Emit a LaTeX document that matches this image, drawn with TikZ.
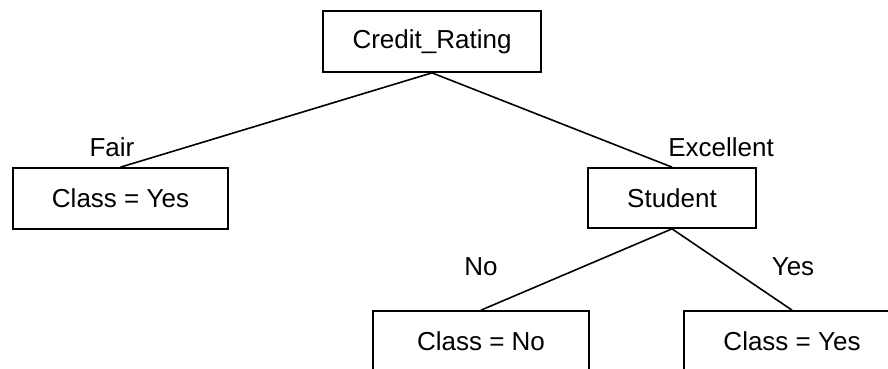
\documentclass[tikz,border=0pt]{standalone}
\usepackage{fontspec}
\setmainfont{Liberation Sans}
\begin{document}
\begin{tikzpicture}[x=1pt,y=-1pt,
  every node/.style={font=\fontsize{26}{30}\selectfont},
  box/.style={draw, line width=1.7pt, inner sep=0pt, minimum height=61pt},
  branch/.style={line width=1.6pt},
  lbl/.style={inner sep=0pt}]
\useasboundingbox (0,0) rectangle (888,368);
\clip (0,0) rectangle (888,368);
% decision nodes and leaves
\node[box, minimum width=218pt] (root) at (432,41.5) {Credit\_Rating};
\node[box, minimum width=215pt] (fair) at (120.5,198.5) {Class = Yes};
\node[box, minimum width=168pt, minimum height=60pt] (student) at (672,198) {Student};
\node[box, minimum width=216pt] (no) at (481,341.5) {Class = No};
\node[box, minimum width=216pt] (yes) at (792,341.5) {Class = Yes};
% branches
\draw[branch] (root.south) -- (fair.north);
\draw[branch] (root.south) -- (student.north);
\draw[branch] (student.south) -- (no.north);
\draw[branch] (student.south) -- (yes.north);
% branch labels
\node[lbl] (lfair) at (112,147) {Fair};
\node[lbl] (lexc) at (721,147) {Excellent};
\node[lbl] (lno) at (481,267) {No};
\node[lbl] (lyes) at (793,267) {Yes};
\end{tikzpicture}
\end{document}
